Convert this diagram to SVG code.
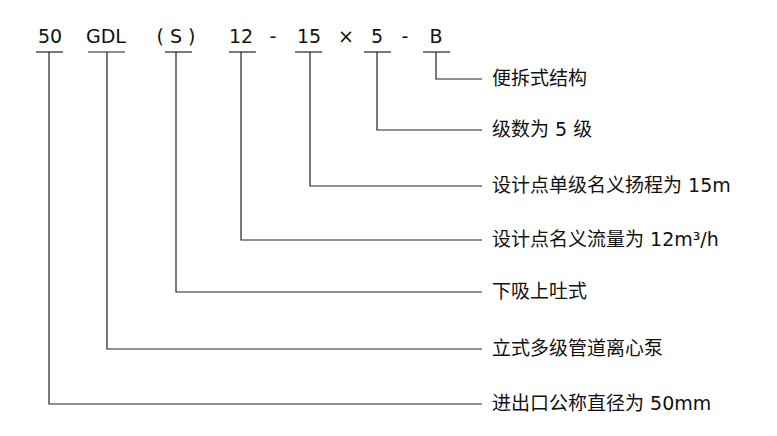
<svg xmlns="http://www.w3.org/2000/svg" width="777" height="436" viewBox="0 0 777 436">
<style>
text{font-family:"DejaVu Sans","Noto Sans CJK SC",sans-serif;font-size:19px;fill:#111}
.c text{text-anchor:middle}
line,polyline{stroke:#222;stroke-width:1.2;fill:none}
</style>
<rect width="777" height="436" fill="#fff"/>
<g class="c">
<g id="n50"><text x="50" y="43">50</text><line x1="36" y1="52" x2="63" y2="52"/></g>
<g id="nGDL"><text x="106" y="43">GDL</text><line x1="88" y1="52" x2="125" y2="52"/></g>
<g id="nS"><text x="176" y="43">( S )</text><line x1="165" y1="52" x2="192" y2="52"/></g>
<g id="n12"><text x="241" y="43">12</text><line x1="229" y1="52" x2="256" y2="52"/></g>
<text x="273" y="43">-</text>
<g id="n15"><text x="309" y="43">15</text><line x1="295" y1="52" x2="322" y2="52"/></g>
<text x="346" y="43">×</text>
<g id="n5"><text x="377" y="43">5</text><line x1="364" y1="52" x2="391" y2="52"/></g>
<text x="405" y="43">-</text>
<g id="nB"><text x="436" y="43">B</text><line x1="423" y1="52" x2="450" y2="52"/></g>
</g>
<g id="connectors">
<polyline points="436,52 436,79 482,79"/>
<polyline points="377,52 377,130 482,130"/>
<polyline points="310,52 310,186 482,186"/>
<polyline points="241,52 241,240 482,240"/>
<polyline points="176,52 176,292 482,292"/>
<polyline points="107,52 107,349 482,349"/>
<polyline points="49,52 49,404 482,404"/>
</g>
<g id="labels">
<text x="492" y="85">便拆式结构</text>
<text x="492" y="136">级数为 5 级</text>
<text x="492" y="192">设计点单级名义扬程为 15m</text>
<text x="492" y="246">设计点名义流量为 12m³/h</text>
<text x="492" y="298">下吸上吐式</text>
<text x="492" y="355">立式多级管道离心泵</text>
<text x="492" y="410">进出口公称直径为 50mm</text>
</g>
</svg>
